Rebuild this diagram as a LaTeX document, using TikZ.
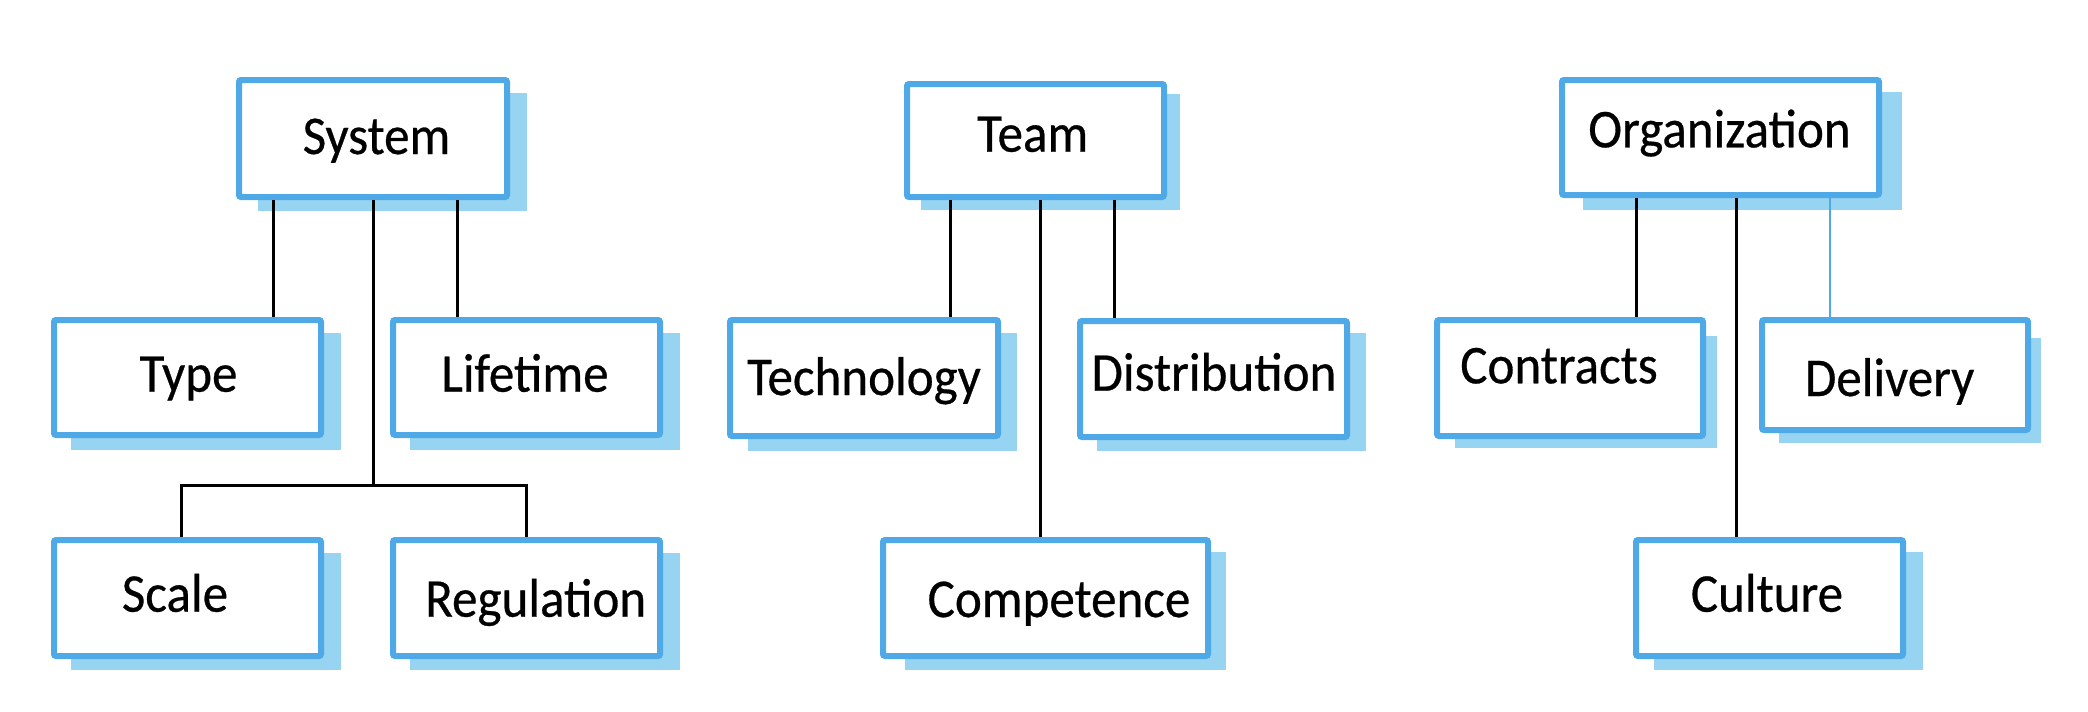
\documentclass[tikz,border=0pt]{standalone}
\usepackage{fontspec}
\setmainfont{Carlito}[FakeStretch=0.935,FakeBold=0.5]
\definecolor{bordblue}{RGB}{78,169,230}
\definecolor{shadblue}{RGB}{150,212,242}
\begin{document}
\begin{tikzpicture}[x=0.5pt,y=-0.5pt,
  box/.style={draw=bordblue, line width=3pt, fill=white, rounded corners=1pt, inner sep=0pt, minimum height=58pt, minimum width=133.5pt},
  shad/.style={fill=shadblue},
  lbl/.style={anchor=base, inner sep=0pt, font=\fontsize{27.3}{30}\selectfont},
  conn/.style={draw=black, line width=1.5pt},
  bconn/.style={draw=bordblue, line width=1pt}]
\useasboundingbox (0,0) rectangle (2088,712);
% shadows
\fill[shad] (258,93) rectangle (527,211);
\fill[shad] (71,333) rectangle (341,450);
\fill[shad] (410,333) rectangle (680,450);
\fill[shad] (71,553) rectangle (341,670);
\fill[shad] (410,553) rectangle (680,670);
\fill[shad] (921,94) rectangle (1180,210);
\fill[shad] (748,333) rectangle (1017,451);
\fill[shad] (1097,333) rectangle (1366,451);
\fill[shad] (905,552) rectangle (1226,670);
\fill[shad] (1583,92) rectangle (1902,210);
\fill[shad] (1455,336) rectangle (1717,448);
\fill[shad] (1779,338) rectangle (2041,443);
\fill[shad] (1654,552) rectangle (1923,670);
% boxes
\node[box, minimum width=134pt, minimum height=58.5pt] (sys) at (373,138.5) {};
\node[box, minimum height=57.5pt] (type) at (187.5,377.5) {};
\node[box, minimum height=57.5pt] (life) at (526.5,377.5) {};
\node[box] (scale) at (187.5,598) {};
\node[box] (reg) at (526.5,598) {};
\node[box, minimum width=128.5pt, minimum height=56.5pt] (team) at (1035.5,140.5) {};
\node[box, minimum width=134pt] (tech) at (864,378) {};
\node[box] (dist) at (1213.5,379) {};
\node[box, minimum width=162.5pt] (comp) at (1045.5,598) {};
\node[box, minimum width=158.5pt, minimum height=57.5pt] (org) at (1720.5,137.5) {};
\node[box, minimum width=133pt] (con) at (1570,378) {};
\node[box, minimum width=133pt, minimum height=55pt] (del) at (1895,375) {};
\node[box] (cul) at (1769.5,598) {};
% labels
\node[lbl] (sysT) at (376.5,154) {System};
\node[lbl] (typeT) at (188.5,391.7) {Type};
\node[lbl] (lifeT) at (525,391.7) {Lifetime};
\node[lbl] (scaleT) at (175,611.7) {Scale};
\node[lbl] (regT) at (535.7,616.7) {Regulation};
\node[lbl] (teamT) at (1032.7,151.7) {Team};
\node[lbl] (techT) at (864,395) {Technology};
\node[lbl] (distT) at (1214,390.7) {Distribution};
\node[lbl] (compT) at (1059,617) {Competence};
\node[lbl] (orgT) at (1719.5,147.3) {Organization};
\node[lbl] (conT) at (1559,383.3) {Contracts};
\node[lbl] (delT) at (1889.6,396) {Delivery};
\node[lbl] (culT) at (1767,611.7) {Culture};
% connector coordinates
\coordinate (xa) at (273,0);
\coordinate (xb) at (457,0);
\coordinate (jc) at (373,485);
\coordinate (jl) at (181,485);
\coordinate (jr) at (526,485);
\coordinate (xt1) at (950,0);
\coordinate (xt2) at (1040,0);
\coordinate (xt3) at (1114,0);
\coordinate (xo1) at (1636,0);
\coordinate (xo2) at (1736,0);
\coordinate (xo3) at (1829.5,0);
% connectors
\draw[conn] (sys.south -| xa) -- (type.north -| xa);
\draw[conn] (sys.south -| xb) -- (life.north -| xb);
\draw[conn] (sys.south -| jc) -- (jc);
\draw[conn] (scale.north -| jl) -- (jl) -- (jr) -- (reg.north -| jr);
\draw[conn] (team.south -| xt1) -- (tech.north -| xt1);
\draw[conn] (team.south -| xt2) -- (comp.north -| xt2);
\draw[conn] (team.south -| xt3) -- (dist.north -| xt3);
\draw[conn] (org.south -| xo1) -- (con.north -| xo1);
\draw[conn] (org.south -| xo2) -- (cul.north -| xo2);
\draw[bconn] (org.south -| xo3) -- (del.north -| xo3);
\end{tikzpicture}
\end{document}
